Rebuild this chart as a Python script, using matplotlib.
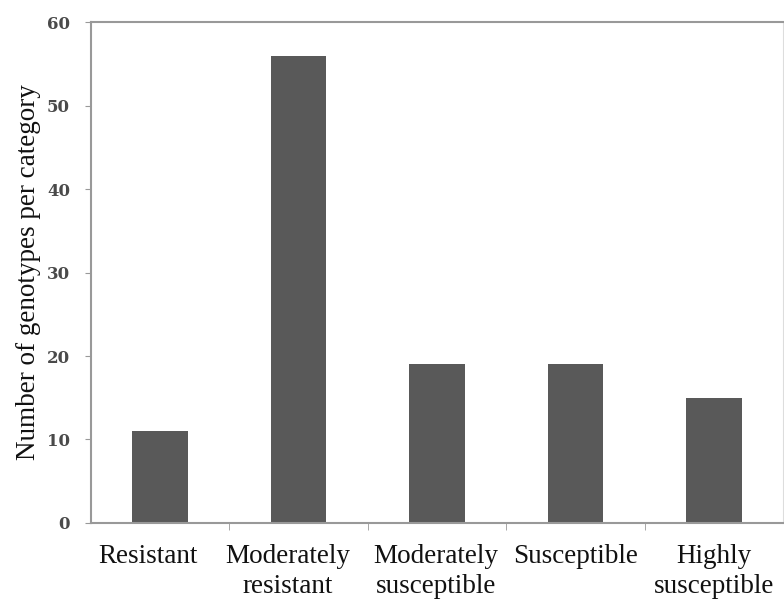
import matplotlib
matplotlib.use('Agg')
import matplotlib.pyplot as plt
import matplotlib.transforms as mtransforms
import numpy as np

# ---------------------------
# Data
# ---------------------------
categories = ['Resistant', 'Moderately\nresistant', 'Moderately\nsusceptible',
              'Susceptible', 'Highly\nsusceptible']
counts = [11, 56, 19, 19, 15]
y_ticks = [0, 10, 20, 30, 40, 50, 60]

# small horizontal nudges (points) of the category labels, as in the original
label_shift = [-9, -8, -1, 0, 0]

# ---------------------------
# Plot
# ---------------------------
fig = plt.figure(figsize=(7.84, 5.99), dpi=100)
ax = fig.add_axes([0.116, 0.127, 0.883, 0.836])

x = np.arange(len(categories))
ax.bar(x, counts, width=0.4, color='#595959', zorder=2)

ax.set_xlim(-0.5, len(categories) - 0.5)
ax.set_ylim(0, 60)
ax.set_yticks(y_ticks)
ax.set_yticklabels([str(v) for v in y_ticks], fontfamily='DejaVu Serif',
                   fontweight='bold', fontsize=12, color='#4a4a4a')

ax.set_xticks(x)
ax.set_xticklabels(categories, fontfamily='Liberation Serif', fontsize=19.5,
                   color='#111111', linespacing=1.25)
ax.set_xticks(x[:-1] + 0.5, minor=True)
ax.tick_params(axis='x', which='major', length=0, pad=15)
ax.tick_params(axis='x', which='minor', length=5, color='#999999', direction='out')
ax.tick_params(axis='y', length=4, color='#999999', direction='out', pad=11)

for lbl, dx in zip(ax.get_xticklabels(), label_shift):
    offset = mtransforms.ScaledTranslation(dx / 72, 0, fig.dpi_scale_trans)
    lbl.set_transform(lbl.get_transform() + offset)

ax.set_ylabel('Number of genotypes per category', fontfamily='Liberation Serif',
              fontsize=19.5, color='#111111', labelpad=4)

for side in ['left', 'bottom', 'top']:
    ax.spines[side].set_color('#999999')
    ax.spines[side].set_linewidth(1.5)
ax.spines['right'].set_color('#dddddd')

plt.savefig('out.png', dpi=100)
